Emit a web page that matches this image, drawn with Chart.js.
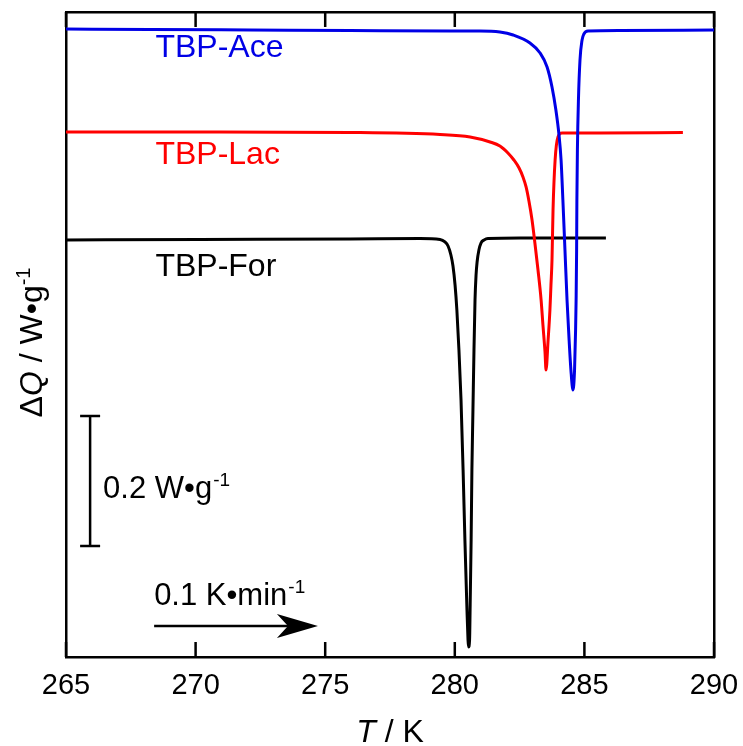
<!DOCTYPE html>
<html>
<head>
<meta charset="utf-8">
<script src="https://cdn.jsdelivr.net/npm/chart.js@4.4.1/dist/chart.umd.min.js"></script>
<style>
  html, body { margin: 0; padding: 0; background: #fff; }
  #wrap { width: 743px; height: 746px; }
</style>
</head>
<body>
<div id="wrap"><canvas id="dsc"></canvas></div>
<script>
// T / K  and  ΔQ / W g-1 (offset traces)
var aceT = [265.00, 268.24, 272.10, 275.96, 279.81, 280.97, 281.74, 282.25, 282.90, 283.29, 283.56, 283.75, 283.90, 284.02, 284.10, 284.17, 284.25, 284.33, 284.41, 284.48, 284.56, 284.62, 284.66, 284.68, 284.70, 284.71, 284.73, 284.77, 284.83, 284.91, 284.98, 285.14, 286.37, 290.00];
var aceQ = [0.966, 0.9654, 0.9646, 0.9638, 0.9631, 0.9631, 0.9615, 0.9569, 0.9446, 0.9292, 0.9077, 0.8769, 0.8415, 0.8031, 0.7646, 0.7031, 0.6262, 0.5492, 0.4877, 0.4415, 0.4108, 0.4415, 0.5031, 0.5492, 0.6262, 0.7031, 0.7800, 0.8569, 0.9185, 0.9492, 0.9585, 0.9631, 0.9638, 0.9646];

var lacT = [265.00, 270.17, 275.96, 279.43, 280.59, 281.36, 281.74, 282.05, 282.28, 282.48, 282.63, 282.75, 282.86, 282.98, 283.09, 283.21, 283.33, 283.40, 283.48, 283.52, 283.60, 283.67, 283.71, 283.75, 283.79, 283.87, 283.98, 284.14, 285.60, 288.80];
var lacQ = [0.8077, 0.8077, 0.8069, 0.8038, 0.8000, 0.7923, 0.7862, 0.7754, 0.7646, 0.7523, 0.7385, 0.7231, 0.7015, 0.6723, 0.6369, 0.5954, 0.5492, 0.5108, 0.4692, 0.4415, 0.4877, 0.5338, 0.5723, 0.6108, 0.6877, 0.7646, 0.8000, 0.8062, 0.8062, 0.8069];

var forT = [265.00, 270.17, 275.96, 278.66, 279.43, 279.62, 279.74, 279.85, 279.93, 280.01, 280.08, 280.16, 280.24, 280.32, 280.39, 280.47, 280.51, 280.53, 280.57, 280.59, 280.63, 280.66, 280.70, 280.74, 280.78, 280.82, 280.86, 280.93, 281.01, 281.13, 281.28, 282.52, 285.83];
var forQ = [0.6415, 0.6423, 0.6431, 0.6438, 0.6423, 0.6385, 0.6323, 0.6185, 0.6015, 0.5723, 0.5338, 0.4723, 0.3954, 0.2877, 0.1800, 0.0723, 0.0262, 0.0154, 0.0262, 0.0723, 0.1800, 0.2877, 0.3800, 0.4723, 0.5492, 0.5877, 0.6077, 0.6262, 0.6369, 0.6415, 0.6438, 0.6446, 0.6446];

var seriesNames  = ['TBP-Ace', 'TBP-Lac', 'TBP-For'];
var seriesColors = ['#0000e6', '#ff0000', '#000000'];
var labelQ = [0.937, 0.7723, 0.600];
var xTicks = [265, 270, 275, 280, 285, 290];

var FONT = "'Liberation Sans', Arial, Helvetica, sans-serif";

function toPoints(xs, ys) {
  return xs.map(function (x, i) { return { x: x, y: ys[i] }; });
}

// where the text labels and the two scale markers sit
var annotations = {
  labelX: 268.45,
  barT: 265.93,
  barFrom: 0.1708,
  barSpan: 0.2,
  arrowFrom: 268.40,
  arrowTo: 274.72,
  arrowQ: 0.0477
};

var frameTicks = {
  id: 'frameTicks',
  afterDatasetsDraw: function (chart) {
    var ctx = chart.ctx;
    var a = chart.chartArea;
    var xs = chart.scales.x;
    var ys = chart.scales.y;
    ctx.save();
    ctx.strokeStyle = '#000';
    ctx.fillStyle = '#000';
    ctx.lineWidth = 2.5;

    // inward ticks top and bottom
    xTicks.forEach(function (t) {
      var px = xs.getPixelForValue(t);
      ctx.beginPath();
      ctx.moveTo(px, a.bottom);
      ctx.lineTo(px, a.bottom - 15);
      ctx.moveTo(px, a.top);
      ctx.lineTo(px, a.top + 15);
      ctx.stroke();
    });

    // series labels
    ctx.font = '32px ' + FONT;
    ctx.textBaseline = 'middle';
    ctx.textAlign = 'left';
    seriesNames.forEach(function (name, i) {
      ctx.fillStyle = seriesColors[i];
      ctx.fillText(name, xs.getPixelForValue(annotations.labelX), ys.getPixelForValue(labelQ[i]));
    });

    // 0.2 W g-1 scale bar
    ctx.fillStyle = '#000';
    var bx = xs.getPixelForValue(annotations.barT);
    var b0 = ys.getPixelForValue(annotations.barFrom);
    var b1 = ys.getPixelForValue(annotations.barFrom + annotations.barSpan);
    ctx.beginPath();
    ctx.moveTo(bx, b0); ctx.lineTo(bx, b1);
    ctx.moveTo(bx - 10, b0); ctx.lineTo(bx + 10, b0);
    ctx.moveTo(bx - 10, b1); ctx.lineTo(bx + 10, b1);
    ctx.stroke();
    drawUnit(ctx, '0.2 W\u2022g', bx + 13, (b0 + b1) / 2 + 17, 31);

    // heating rate arrow
    var ax0 = xs.getPixelForValue(annotations.arrowFrom);
    var ax1 = xs.getPixelForValue(annotations.arrowTo);
    var ay = ys.getPixelForValue(annotations.arrowQ);
    ctx.beginPath();
    ctx.moveTo(ax0, ay); ctx.lineTo(ax1 - 20, ay);
    ctx.stroke();
    ctx.beginPath();
    ctx.moveTo(ax1, ay);
    ctx.lineTo(ax1 - 41, ay - 12);
    ctx.lineTo(ax1 - 30, ay);
    ctx.lineTo(ax1 - 41, ay + 12);
    ctx.closePath();
    ctx.fill();
    drawUnit(ctx, '0.1 K\u2022min', ax0, ay - 21, 31);
    ctx.restore();
  },
  afterDraw: function (chart) {
    var ctx = chart.ctx;
    var a = chart.chartArea;
    ctx.save();
    ctx.fillStyle = '#000';
    ctx.textBaseline = 'alphabetic';

    // x title: T / K
    var it = 'italic 32px ' + FONT, rg = '32px ' + FONT;
    ctx.font = it; var wT = ctx.measureText('T').width;
    ctx.font = rg; var wR = ctx.measureText(' / K').width;
    var cx = (a.left + a.right) / 2, x0 = cx - (wT + wR) / 2;
    ctx.font = it; ctx.fillText('T', x0, 742);
    ctx.font = rg; ctx.fillText(' / K', x0 + wT, 742);

    // y title: ΔQ / W•g-1
    ctx.translate(42, (a.top + a.bottom) / 2 + 8);
    ctx.rotate(-Math.PI / 2);
    var parts = [['\u0394', rg, 0], ['Q', it, 0], [' / W\u2022g', rg, 0], ['-1', '20px ' + FONT, -12]];
    var total = 0;
    parts.forEach(function (p) { ctx.font = p[1]; total += ctx.measureText(p[0]).width; });
    var x = -total / 2;
    parts.forEach(function (p) {
      ctx.font = p[1];
      ctx.fillText(p[0], x, p[2]);
      x += ctx.measureText(p[0]).width;
    });
    ctx.restore();
  }
};

// text with a "-1" superscript
function drawUnit(ctx, text, x, y, size) {
  ctx.save();
  ctx.textAlign = 'left';
  ctx.textBaseline = 'alphabetic';
  ctx.font = size + 'px ' + FONT;
  ctx.fillText(text, x, y);
  var w = ctx.measureText(text).width;
  ctx.font = Math.round(size * 0.6) + 'px ' + FONT;
  ctx.fillText('-1', x + w + 1, y - size * 0.4);
  ctx.restore();
}

function frameAxis(pos, size) {
  var horiz = pos === 'top' || pos === 'bottom';
  return {
    type: 'linear',
    position: pos,
    min: horiz ? 265 : 0,
    max: horiz ? 290 : 0.9923,
    ticks: { display: false },
    grid: { drawOnChartArea: false, drawTicks: false },
    border: { display: true, color: '#000', width: 2.5 },
    afterFit: function (s) {
      if (horiz) s.height = size; else s.width = size;
      s.paddingLeft = 0; s.paddingRight = 0;
      s.paddingTop = 0; s.paddingBottom = 0;
    }
  };
}

var xAxis = frameAxis('bottom', 89);
xAxis.ticks = {
  display: true,
  stepSize: 5,
  color: '#000',
  padding: 12,
  maxRotation: 0,
  font: { family: FONT, size: 29 },
  callback: function (v) { return xTicks.indexOf(v) >= 0 ? String(v) : ''; }
};

new Chart(document.getElementById('dsc'), {
  type: 'line',
  data: {
    datasets: [
      { label: seriesNames[0], data: toPoints(aceT, aceQ), borderColor: seriesColors[0] },
      { label: seriesNames[1], data: toPoints(lacT, lacQ), borderColor: seriesColors[1] },
      { label: seriesNames[2], data: toPoints(forT, forQ), borderColor: seriesColors[2] }
    ]
  },
  options: {
    responsive: true,
    maintainAspectRatio: false,
    animation: false,
    layout: { padding: 0 },
    elements: {
      point: { radius: 0 },
      line: { borderWidth: 3, cubicInterpolationMode: 'monotone', fill: false }
    },
    scales: {
      x: xAxis,
      xTop: frameAxis('top', 12),
      y: frameAxis('left', 66),
      yRight: frameAxis('right', 29)
    },
    plugins: {
      legend: { display: false },
      tooltip: { enabled: false }
    }
  },
  plugins: [frameTicks]
});
</script>
</body>
</html>
